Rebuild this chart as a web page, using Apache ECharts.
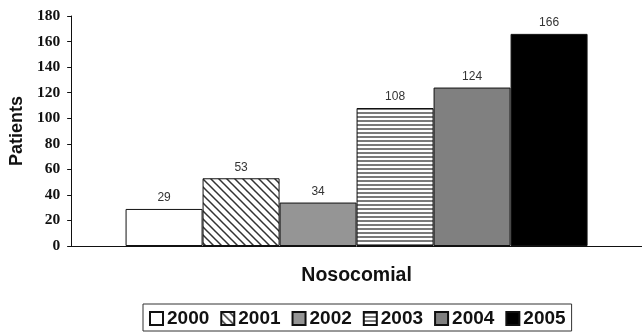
<!DOCTYPE html>
<html>
<head>
<meta charset="utf-8">
<script src="https://cdn.jsdelivr.net/npm/echarts@6/dist/echarts.min.js"></script>
<style>
  html, body { margin: 0; padding: 0; background: #fff; }
  #chart { width: 642px; height: 334px; }
</style>
</head>
<body>
<div id="chart"></div>
<script>
// Patients with nosocomial infection, per year
const categories = ['Nosocomial'];
const years = ['2000', '2001', '2002', '2003', '2004', '2005'];
const patients = [29, 53, 34, 108, 124, 166];
const yTicks = { min: 0, max: 180, interval: 20 };

const SANS = '"Liberation Sans", Arial, sans-serif';
const SERIF = '"Liberation Serif", "Times New Roman", serif';

// Fill patterns built on small canvas tiles
function diagonalTile() {
  const c = document.createElement('canvas');
  c.width = 8; c.height = 8;
  const g = c.getContext('2d');
  g.fillStyle = '#fff';
  g.fillRect(0, 0, 8, 8);
  g.strokeStyle = '#333';
  g.lineWidth = 1.5;
  g.beginPath();
  g.moveTo(-2, -2); g.lineTo(10, 10);
  g.moveTo(-2, 6); g.lineTo(2, 10);
  g.moveTo(6, -2); g.lineTo(10, 2);
  g.stroke();
  return c;
}
function horizontalTile() {
  const c = document.createElement('canvas');
  c.width = 4; c.height = 4;
  const g = c.getContext('2d');
  g.fillStyle = '#fff';
  g.fillRect(0, 0, 4, 4);
  g.fillStyle = '#7a7a7a';
  g.fillRect(0, 0, 4, 2);
  return c;
}

const fills = [
  '#ffffff',
  { image: diagonalTile(), repeat: 'repeat' },
  '#959595',
  { image: horizontalTile(), repeat: 'repeat' },
  '#808080',
  '#000000'
];

const series = years.map((y, i) => ({
  name: y,
  type: 'bar',
  data: [patients[i]],
  barWidth: 77,
  barGap: '0%',
  itemStyle: { color: fills[i], borderColor: '#111', borderWidth: 1 },
  label: {
    show: true,
    position: 'top',
    distance: 5,
    color: '#333',
    fontFamily: SANS,
    fontSize: 12
  }
}));

const chart = echarts.init(document.getElementById('chart'), null, { renderer: 'canvas' });
chart.setOption({
  animation: false,
  backgroundColor: '#fff',
  grid: { left: 70, right: -3, top: 16, bottom: 88, containLabel: false },
  xAxis: {
    type: 'category',
    data: categories,
    axisLine: { lineStyle: { color: '#111', width: 1 } },
    axisTick: { show: false },
    axisLabel: {
      margin: 20,
      color: '#111',
      fontFamily: SANS,
      fontWeight: 'bold',
      fontSize: 19.5
    }
  },
  yAxis: {
    type: 'value',
    min: yTicks.min,
    max: yTicks.max,
    interval: yTicks.interval,
    name: 'Patients',
    nameLocation: 'middle',
    nameGap: 45,
    nameTextStyle: { color: '#111', fontFamily: SANS, fontWeight: 'bold', fontSize: 18 },
    axisLine: { show: true, lineStyle: { color: '#111', width: 1 } },
    axisTick: { show: true, length: 4, lineStyle: { color: '#111' } },
    splitLine: { show: false },
    axisLabel: {
      margin: 11,
      color: '#111',
      fontFamily: SERIF,
      fontWeight: 'bold',
      fontSize: 15.5
    }
  },
  legend: {
    data: years,
    left: 143,
    top: 304,
    padding: [5, 6, 3, 6],
    itemGap: 11,
    itemWidth: 13,
    itemHeight: 13,
    icon: 'rect',
    borderColor: '#333',
    borderWidth: 1,
    textStyle: { color: '#111', fontFamily: SANS, fontWeight: 'bold', fontSize: 19, padding: [0, 0, 0, -1] }
  },
  series: series
});
</script>
</body>
</html>
